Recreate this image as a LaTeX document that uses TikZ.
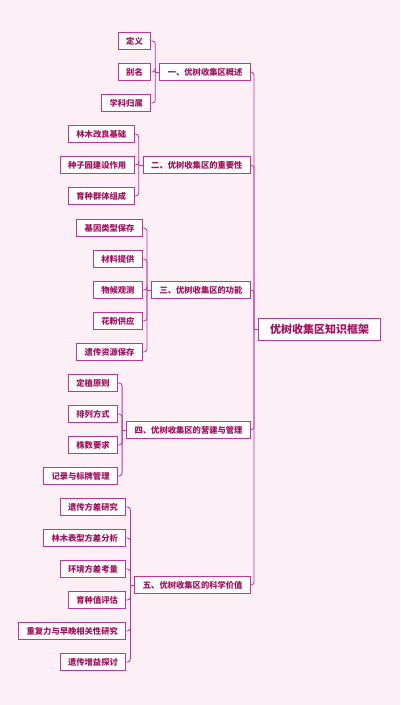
\documentclass[tikz,border=0pt]{standalone}
\usepackage{fontspec}
\newfontfamily\cjk{Noto Sans CJK SC}
\usetikzlibrary{positioning}
\definecolor{cbg}{HTML}{FDEFF6}
\definecolor{cline}{HTML}{C2369A}
\definecolor{ctext}{HTML}{A3105E}
\tikzset{
  every picture/.style={font=\cjk, line width=0.8pt},
  topic/.style={draw=cline, line width=1pt, fill=white, text=ctext, inner xsep=8pt, inner ysep=0pt,
    minimum height=17pt, font=\cjk\bfseries\fontsize{8.3}{10}\selectfont},
  root/.style={topic, inner xsep=11.5pt, minimum height=22pt, font=\cjk\bfseries\fontsize{11}{13}\selectfont},
  link/.style={draw=cline, rounded corners=3pt},
}

\begin{document}
\begin{tikzpicture}[x=1pt, y=-1pt]
  \fill[cbg] (0,0) rectangle (400,705);
  % root and sections
  \node[root, anchor=east] (frame) at (381,329) {优树收集区知识框架};
  \foreach \w/\y [count=\k] in {一、优树收集区概述/72, 二、优树收集区的重要性/165,
      三、优树收集区的功能/290, 四、优树收集区的营建与管理/430, 五、优树收集区的科学价值/585}
    \node[topic, anchor=east] (sec\k) at (251,\y) {\w};
  \foreach \k in {1,...,5} {
    \coordinate (b\k) at ([xshift=-8pt]sec\k.west);
    \coordinate (k\k) at ([xshift=-4pt]sec\k.west);
  }
  \coordinate (k0) at ([xshift=-4pt]frame.west);
  % leaves
  \foreach \w/\y [count=\k] in {定义/41, 别名/72, 学科归属/103}
    \node[topic, anchor=east] (c1\k) at (b1 |- 0,\y) {\w};
  \foreach \w/\y [count=\k] in {林木改良基础/134, 种子园建设作用/165, 育种群体组成/196}
    \node[topic, anchor=east] (c2\k) at (b2 |- 0,\y) {\w};
  \foreach \w/\y [count=\k] in {基因类型保存/228, 材料提供/259, 物候观测/290, 花粉供应/321, 遗传资源保存/352}
    \node[topic, anchor=east] (c3\k) at (b3 |- 0,\y) {\w};
  \foreach \w/\y [count=\k] in {定植原则/383, 排列方式/414, 株数要求/445, 记录与标牌管理/476}
    \node[topic, anchor=east] (c4\k) at (b4 |- 0,\y) {\w};
  \foreach \w/\y [count=\k] in {遗传方差研究/507, 林木表型方差分析/538, 环境方差考量/569,
      育种值评估/600, 重复力与早晚相关性研究/631, 遗传增益探讨/662}
    \node[topic, anchor=east] (c5\k) at (b5 |- 0,\y) {\w};
  % connectors
  \draw[link] (frame.west) -- (k0);
  \foreach \k in {1,...,5} \draw[link] (k0) |- (sec\k.east);
  \foreach \k in {1,...,5} \draw[link] (sec\k.west) -- (k\k);
  \foreach \k in {1,2,3} \draw[link] (k1) |- (c1\k.east);
  \foreach \k in {1,2,3} \draw[link] (k2) |- (c2\k.east);
  \foreach \k in {1,...,5} \draw[link] (k3) |- (c3\k.east);
  \foreach \k in {1,...,4} \draw[link] (k4) |- (c4\k.east);
  \foreach \k in {1,...,6} \draw[link] (k5) |- (c5\k.east);
\end{tikzpicture}
\end{document}
